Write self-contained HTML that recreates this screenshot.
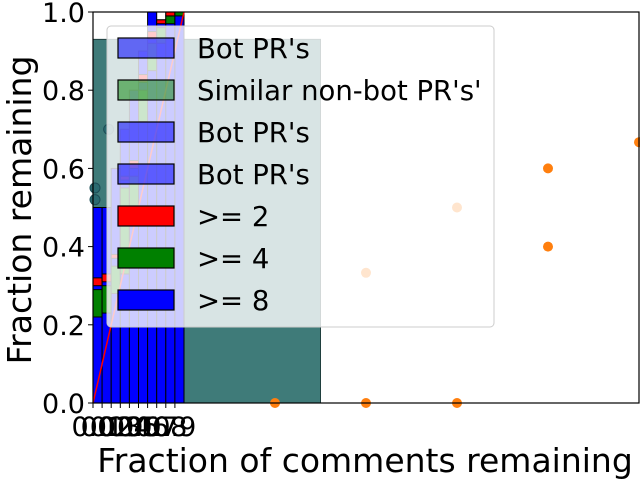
<!DOCTYPE html>
<html><head><meta charset="utf-8"><style>
body{margin:0;background:#fff;width:640px;height:480px;overflow:hidden}
svg{font-family:"DejaVu Sans","Liberation Sans",sans-serif}
</style></head><body>
<svg id="chart" width="640" height="480" xmlns="http://www.w3.org/2000/svg"></svg>
<script>
const yTicks=[0.0,0.2,0.4,0.6,0.8,1.0];
const xTicks=[0.0,0.1,0.2,0.3,0.4,0.5,0.6,0.7,0.8,0.9];
const barX=[0,0.1,0.2,0.3,0.4,0.5,0.6,0.7,0.8,0.9];
const blueVals=[0.5,0.5,0.6,0.7,0.8,0.9,1.0,0.98,1.0,1.0];
const greenLow=[0.22,0.23,0.28,0.33,0.5,0.72,0.85,0.92,0.97,0.99];
const greenHigh=[0.29,0.30,0.35,0.55,0.58,0.8,0.92,0.96,0.99,1.0];
const redLow=[0.30,0.31,0.37,0.57,0.6,0.82,0.93,0.97,0.99,1.0];
const redHigh=[0.32,0.33,0.38,0.58,0.62,0.84,0.95,0.98,1.0,1.0];
const tealRect=[0,2.5,0.93];
const orangeX=[2,3,4,5,5,6,3,4];
const orangeY=[0,0,0,0.4,0.6,0.667,0.333,0.5];
const tealDotX=[0.0,0.0,0.15];
const tealDotY=[0.55,0.52,0.7];
const legendLabels=["Bot PR's","Similar non-bot PR's'","Bot PR's","Bot PR's",">= 2",">= 4",">= 8"];
const legendColors=["rgba(0,0,255,0.55)","rgba(0,128,0,0.5)","rgba(0,0,255,0.55)","rgba(0,0,255,0.55)","#ff0000","#008000","#0000ff"];

const L=93,R=639,T=12,B=403;
const sx=v=>L+v*(R-L)/6;
const sy=v=>B-v*(B-T);
const svg=document.getElementById('chart');
const NS='http://www.w3.org/2000/svg';
function mk(tag,attrs,parent){const e=document.createElementNS(NS,tag);for(const k in attrs)e.setAttribute(k,attrs[k]);(parent||svg).appendChild(e);return e;}

let e=mk('rect',{x:sx(tealRect[0]),y:sy(tealRect[2]),width:sx(tealRect[1])-sx(tealRect[0]),height:sy(0)-sy(tealRect[2]),fill:'#3f7b79',stroke:'#1f3f3e'});


tealDotX.forEach((x,i)=>{const c=mk('circle',{cx:sx(x)+2,cy:sy(tealDotY[i]),r:5,fill:'#2a6a70',stroke:'#1c4c55'});

});
const w=sx(0.1)-sx(0);
barX.forEach((x,i)=>{
 const b=mk('rect',{x:sx(x),y:sy(blueVals[i]),width:w,height:sy(0)-sy(blueVals[i]),fill:'#0000ff',stroke:'#000','stroke-width':1});
 
 
 const g=mk('rect',{x:sx(x),y:sy(greenHigh[i]),width:w,height:sy(greenLow[i])-sy(greenHigh[i]),fill:'#008000',stroke:'#000','stroke-width':1});
 
 
 const r=mk('rect',{x:sx(x),y:sy(redHigh[i]),width:w,height:sy(redLow[i])-sy(redHigh[i]),fill:'#ff0000',stroke:'#000','stroke-width':1});
 
 
});
e=mk('line',{x1:sx(0),y1:sy(0),x2:sx(1),y2:sy(1),stroke:'#ff0000','stroke-width':1.5});


orangeX.forEach((x,i)=>{const c=mk('circle',{cx:sx(x),cy:sy(orangeY[i]),r:5,fill:'#ff7f0e'});

});

e=mk('rect',{x:L,y:T,width:R-L,height:B-T,fill:'none',stroke:'#000','stroke-width':1.2});


yTicks.forEach(v=>{mk('line',{x1:L-5,y1:sy(v),x2:L,y2:sy(v),stroke:'#000'});
 const t=mk('text',{x:L-8,y:sy(v)+10,'text-anchor':'end','font-size':27});t.textContent=v.toFixed(1);
 
 });
xTicks.forEach(v=>{mk('line',{x1:sx(v),y1:B,x2:sx(v),y2:B+5,stroke:'#000'});
 const t=mk('text',{x:sx(v),y:B+33,'text-anchor':'middle','font-size':27});t.textContent=v.toFixed(1);
 
 });
e=mk('text',{x:365,y:472,'text-anchor':'middle','font-size':33});e.textContent='Fraction of comments remaining';


e=mk('text',{x:0,y:0,'text-anchor':'middle','font-size':33,transform:'translate(31,210) rotate(-90)'});e.textContent='Fraction remaining';



const lg=mk('g',{});


mk('rect',{x:107,y:26,width:387,height:301,rx:4,fill:'rgba(255,255,255,0.8)',stroke:'#ccc'},lg);
legendLabels.forEach((s,i)=>{
 const cy=48+i*42;
 const p=mk('rect',{x:118,y:cy-10,width:56,height:20,fill:legendColors[i],stroke:'#000','stroke-width':1.2},lg);
 
 
 const t=mk('text',{x:197,y:cy+10,'font-size':27.5},lg);t.textContent=s;
 
 
});
</script>
</body></html>
